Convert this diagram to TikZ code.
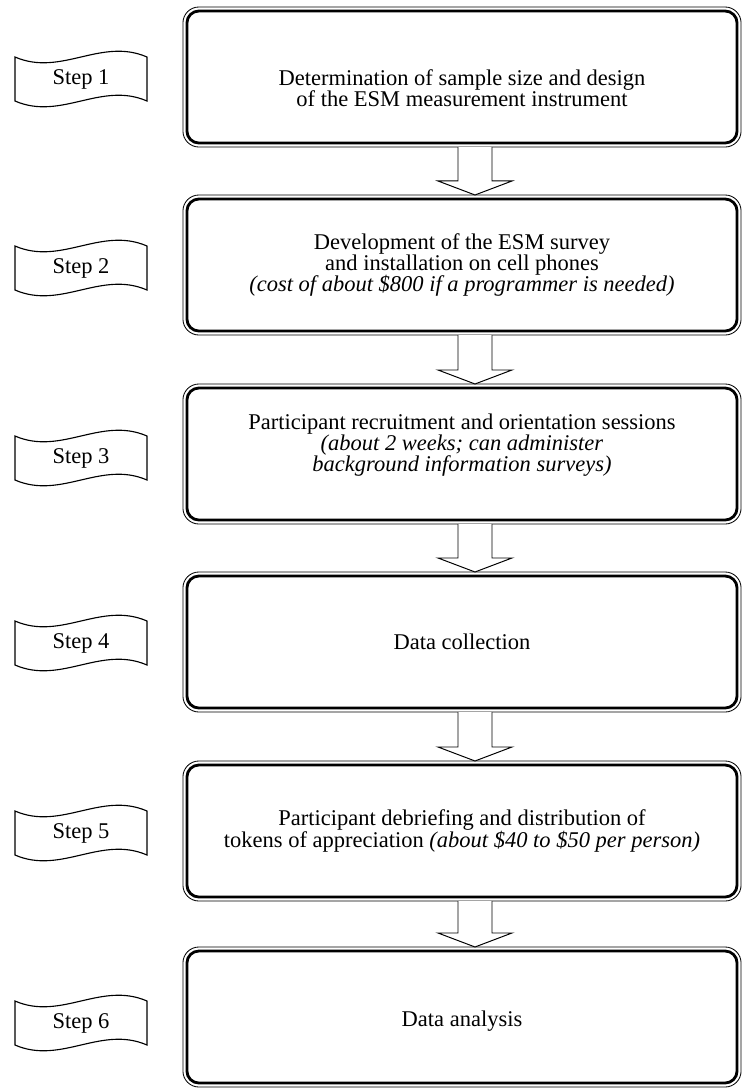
\documentclass[tikz,border=0pt]{standalone}
\usepackage{fontspec}
\setmainfont{Liberation Serif}
\usetikzlibrary{positioning, calc}

\begin{document}
\begin{tikzpicture}[x=0.025cm, y=-0.025cm,
    stage/.style={draw, line width=2pt, rounded corners=0.3cm, outer sep=0pt, minimum width=13.75cm, minimum height=3.3cm},
    stagetext/.style={align=center, font=\fontsize{16}{15.2}\selectfont},
    outline/.style={line width=0.6pt, rounded corners=0.4cm},
    blockarrow/.style={draw, line width=0.7pt, fill=white, line join=miter},
    stepflag/.pic={
        \draw[line width=0.8pt] (-66,-22) .. controls (-20,-2) and (20,-42) .. (66,-22)
            -- (66,22) .. controls (20,2) and (-20,42) .. (-66,22) -- cycle;
        \node[font=\fontsize{16}{15}\selectfont] (-text) {#1};
    }
]
    \useasboundingbox (0,0) rectangle (742,1088);

    % Step 1
    \node[stage] (b1) at (462,77) {};
    \node[stagetext] (t1) at ($(b1)+(0,11)$) {Determination of sample size and design\\ of the ESM measurement instrument};
    \pic (f1) at (81,79) {stepflag=Step 1};

    % Step 2
    \node[stage] (b2) at (462,265) {};
    \node[stagetext] (t2) at (b2) {Development of the ESM survey\\ and installation on cell phones\\ \textit{(cost of about \$800 if a programmer is needed)}};
    \pic (f2) at (81,268) {stepflag=Step 2};

    % Step 3
    \node[stage] (b3) at (462,454) {};
    \node[stagetext] (t3) at ($(b3)+(0,-9)$) {Participant recruitment and orientation sessions\\ \textit{(about 2 weeks; can administer}\\ \textit{background information surveys)}};
    \pic (f3) at (81,458) {stepflag=Step 3};

    % Step 4
    \node[stage] (b4) at (462,642) {};
    \node[stagetext] (t4) at (b4) {Data collection};
    \pic (f4) at (81,643) {stepflag=Step 4};

    % Step 5
    \node[stage] (b5) at (462,831) {};
    \node[stagetext] (t5) at (b5) {Participant debriefing and distribution of\\ tokens of appreciation \textit{(about \$40 to \$50 per person)}};
    \pic (f5) at (81,833) {stepflag=Step 5};

    % Step 6
    \node[stage] (b6) at (462,1017) {};
    \node[stagetext] (t6) at ($(b6)+(0,4)$) {Data analysis};
    \pic (f6) at (81,1023) {stepflag=Step 6};

    % thin outer border
    \foreach \n in {1,...,6}
        \draw[outline] ([shift={(-4,-4)}]b\n.north west) rectangle ([shift={(4,4)}]b\n.south east);

    % Arrows
    \foreach \a/\b in {b1/b2, b2/b3, b3/b4, b4/b5, b5/b6}
        \draw[blockarrow] ($(\a.south)+(-4,4)$) -- ($(\b.north)+(-4,-18)$) -- ($(\b.north)+(-24,-18)$)
            -- ($(\b.north)+(13,-4)$) -- ($(\b.north)+(50,-18)$) -- ($(\b.north)+(30,-18)$) -- ($(\a.south)+(30,4)$);
\end{tikzpicture}
\end{document}
